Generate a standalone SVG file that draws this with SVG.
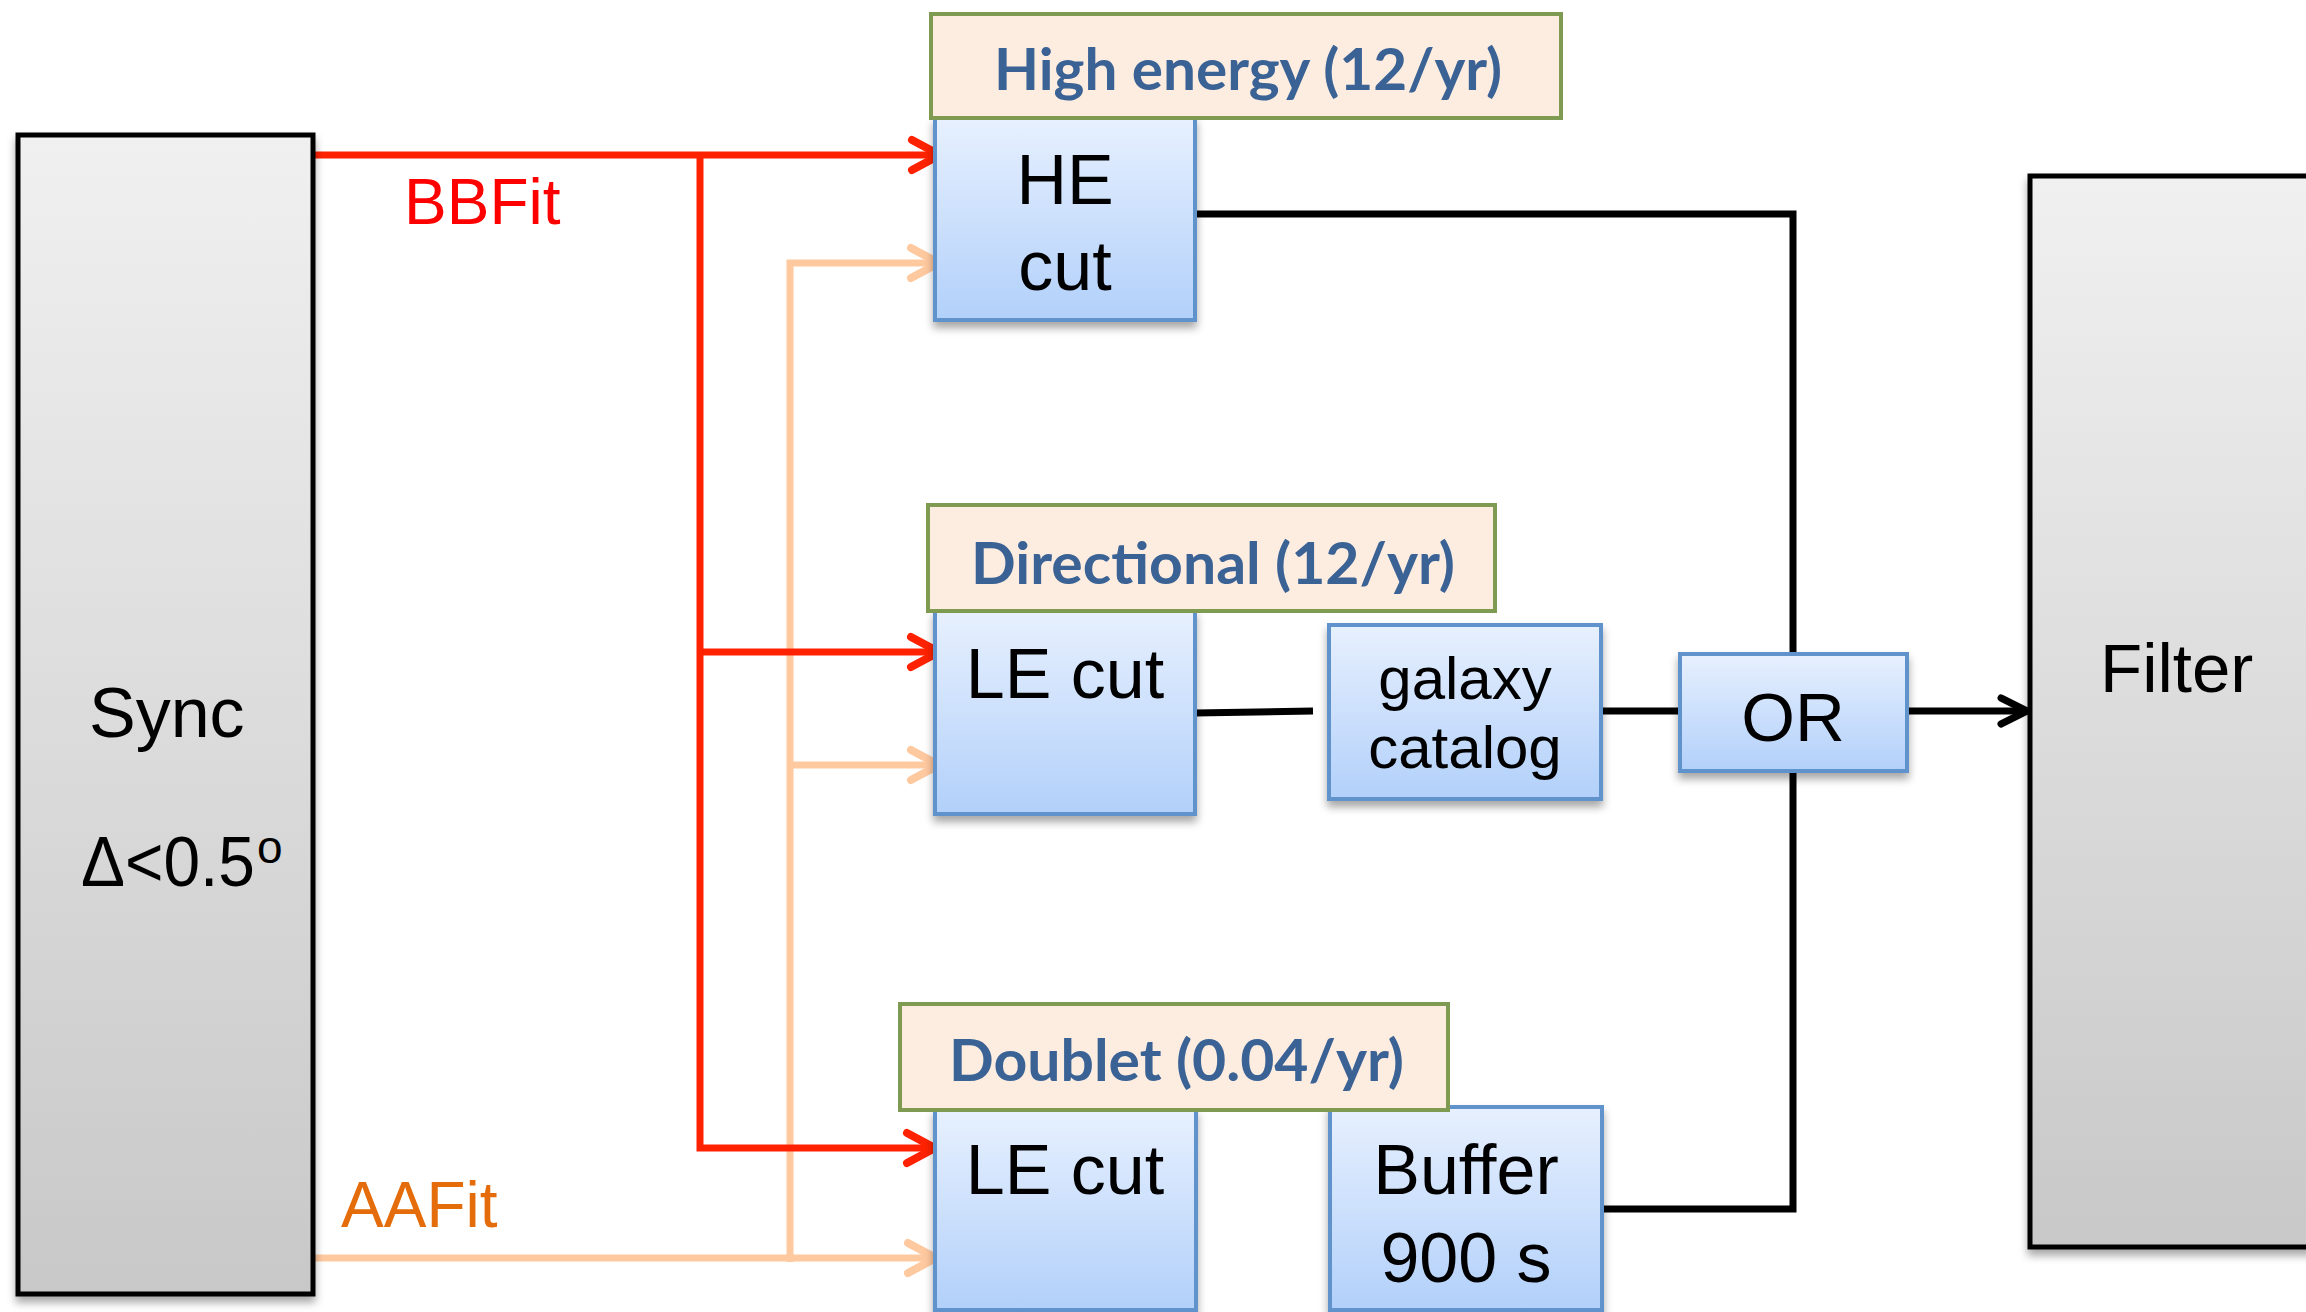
<svg xmlns="http://www.w3.org/2000/svg" width="2306" height="1312" viewBox="0 0 2306 1312">
<defs>
<linearGradient id="gBlue" x1="0" y1="0" x2="0" y2="1">
<stop offset="0" stop-color="#E7F0FE"/>
<stop offset="1" stop-color="#B2D0FA"/>
</linearGradient>
<linearGradient id="gGray" x1="0" y1="0" x2="0" y2="1">
<stop offset="0" stop-color="#F0F0F0"/>
<stop offset="1" stop-color="#C8C8C8"/>
</linearGradient>
<filter id="shadow" x="-20%" y="-20%" width="140%" height="140%">
<feDropShadow dx="0" dy="6" stdDeviation="4" flood-color="#000" flood-opacity="0.35"/>
</filter>
<marker id="arrRed" markerUnits="userSpaceOnUse" viewBox="-36 -20 40 40" markerWidth="40" markerHeight="40" refX="0" refY="0" orient="auto">
<path d="M-28,-15 L0,0 L-28,15" fill="none" stroke="#FF2200" stroke-width="8" stroke-linecap="round" stroke-linejoin="round"/>
</marker>
<marker id="arrPeach" markerUnits="userSpaceOnUse" viewBox="-36 -20 40 40" markerWidth="40" markerHeight="40" refX="0" refY="0" orient="auto">
<path d="M-28,-15 L0,0 L-28,15" fill="none" stroke="#FFC9A0" stroke-width="8" stroke-linecap="round" stroke-linejoin="round"/>
</marker>
<marker id="arrBlack" markerUnits="userSpaceOnUse" viewBox="-36 -20 40 40" markerWidth="40" markerHeight="40" refX="0" refY="0" orient="auto">
<path d="M-26,-13 L0,0 L-26,13" fill="none" stroke="#000" stroke-width="7" stroke-linecap="round" stroke-linejoin="round"/>
</marker>
</defs>
<style>
.gray{fill:url(#gGray);stroke:#000;stroke-width:5;filter:url(#shadow)}
.blue{fill:url(#gBlue);stroke:#6093CB;stroke-width:4;filter:url(#shadow)}
.lab{fill:#FDEDE1;stroke:#7F9B52;stroke-width:4}
.t{font-family:"Liberation Sans",Arial,sans-serif;fill:#000}
.tc{font-family:"Liberation Sans",Arial,sans-serif;fill:#000;text-anchor:middle}
.lt{font-family:Lato,"Open Sans",sans-serif;font-weight:bold;fill:#3B6294;font-size:57px}
.red{fill:none;stroke:#FF2200;stroke-width:7}
.peach{fill:none;stroke:#FFC9A0;stroke-width:7}
.blk{fill:none;stroke:#000;stroke-width:7}
</style>
<rect width="2306" height="1312" fill="#fff"/>

<g id="connectors">
<path class="blk" d="M1195,214 H1793 V1209 H1602"/>
<path class="blk" d="M1195,713 L1313,711"/>
<path class="blk" d="M1601,711 H1680"/>
<path class="blk" d="M1907,711 H2027" marker-end="url(#arrBlack)"/>
<path class="peach" d="M313,1258 H936" marker-end="url(#arrPeach)"/>
<path class="peach" d="M790,1262 V263 H939" marker-end="url(#arrPeach)"/>
<path class="peach" d="M790,765 H939" marker-end="url(#arrPeach)"/>
<path class="red" d="M313,155 H940" marker-end="url(#arrRed)"/>
<path class="red" d="M700,155 V1148 H935" marker-end="url(#arrRed)"/>
<path class="red" d="M700,652 H939" marker-end="url(#arrRed)"/>
<text class="t" x="404" y="224" font-size="64" style="fill:#FF0000">BBFit</text>
<text class="t" x="341" y="1227" font-size="64" style="fill:#E46C0A">AAFit</text>
</g>

<g id="sync">
<rect class="gray" x="18" y="135" width="295" height="1159"/>
<text class="t" x="89" y="737" font-size="70">Sync</text>
<text class="t" x="81" y="886" font-size="70"><tspan textLength="174" lengthAdjust="spacingAndGlyphs">Δ&lt;0.5</tspan><tspan x="257" y="863" font-size="46">o</tspan></text>
</g>

<g id="filter">
<rect class="gray" x="2030" y="176" width="300" height="1071"/>
<text class="t" x="2100" y="692" font-size="69">Filter</text>
</g>

<g id="he-cut">
<rect class="blue" x="935" y="118" width="260" height="202"/>
<text class="tc" x="1065" y="204" font-size="70">HE</text>
<text class="tc" x="1065" y="290" font-size="70">cut</text>
</g>
<g id="he-label">
<rect class="lab" x="931" y="14" width="630" height="104"/>
<text class="lt" x="994" y="90" textLength="508" lengthAdjust="spacingAndGlyphs">High energy (12/yr)</text>
</g>

<g id="le-cut-dir">
<rect class="blue" x="935" y="611" width="260" height="203"/>
<text class="tc" x="1065" y="698" font-size="70">LE cut</text>
</g>
<g id="dir-label">
<rect class="lab" x="928" y="505" width="567" height="106"/>
<text class="lt" x="971" y="584" textLength="484" lengthAdjust="spacingAndGlyphs">Directional (12/yr)</text>
</g>

<g id="galaxy">
<rect class="blue" x="1329" y="625" width="272" height="174"/>
<text class="tc" x="1465" y="699" font-size="60">galaxy</text>
<text class="tc" x="1465" y="768" font-size="60">catalog</text>
</g>

<g id="or">
<rect class="blue" x="1680" y="654" width="227" height="117"/>
<text class="tc" x="1793" y="741" font-size="69">OR</text>
</g>

<g id="le-cut-doublet">
<rect class="blue" x="935" y="1110" width="261" height="200"/>
<text class="tc" x="1065" y="1194" font-size="70">LE cut</text>
</g>
<g id="buffer">
<rect class="blue" x="1330" y="1107" width="272" height="203"/>
<text class="tc" x="1466" y="1194" font-size="70">Buffer</text>
<text class="tc" x="1466" y="1282" font-size="70">900 s</text>
</g>
<g id="doublet-label">
<rect class="lab" x="900" y="1004" width="548" height="106"/>
<text class="lt" x="949" y="1081" textLength="455" lengthAdjust="spacingAndGlyphs">Doublet (0.04/yr)</text>
</g>
</svg>
